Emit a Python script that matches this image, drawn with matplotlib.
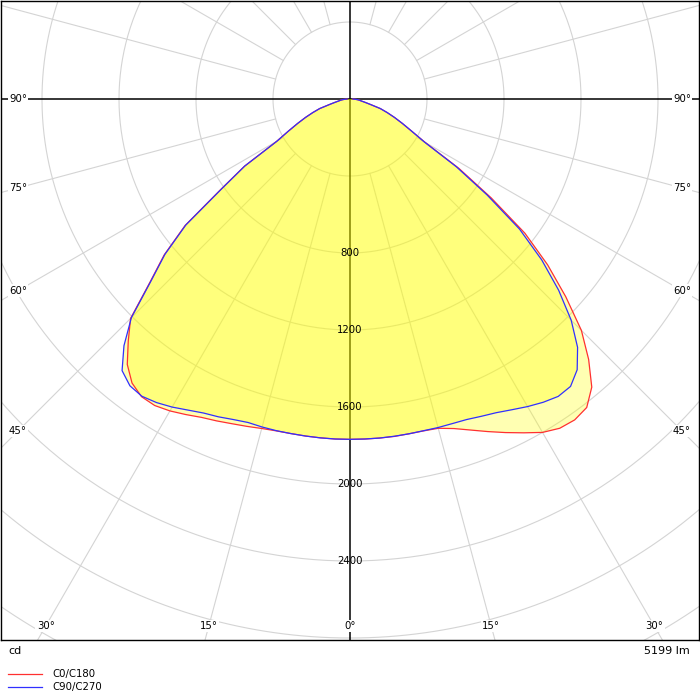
import numpy as np
import matplotlib
matplotlib.use("Agg")
import matplotlib.pyplot as plt
from matplotlib.lines import Line2D

# photometric data, gamma angles in degrees, intensities in cd
gamma = np.arange(0, 90.1, 2.5)
c0 = [1768, 1768, 1768, 1768, 1766, 1766, 1771,
      1795, 1830, 1870, 1912, 1955, 2000, 2028, 2035, 2020, 1954, 1835, 1700,
      1520, 1340, 1145, 895, 670, 450, 360, 300, 250, 205, 165, 110, 80, 60, 50, 38, 25, 15]
c180 = [1768, 1768, 1767, 1766, 1765, 1766, 1772,
        1783, 1795, 1810, 1825, 1848, 1871, 1888, 1888, 1860, 1800, 1705, 1612,
        1410, 1260, 1080, 820, 650, 440, 360, 300, 250, 205, 165, 110, 80, 60, 50, 38, 25, 15]
c90 = [1768, 1768, 1768, 1767, 1766, 1765, 1767,
       1768, 1772, 1784, 1798, 1820, 1845, 1868, 1886, 1882, 1836, 1750, 1625,
       1470, 1300, 1110, 870, 655, 445, 360, 300, 250, 205, 165, 110, 80, 60, 50, 38, 25, 15]
c270 = [1768, 1768, 1767, 1766, 1765, 1765, 1764,
        1762, 1772, 1787, 1800, 1822, 1848, 1870, 1885, 1878, 1842, 1738, 1606,
        1405, 1255, 1075, 815, 648, 438, 360, 300, 250, 205, 165, 110, 80, 60, 50, 38, 25, 15]

ring_values = [800, 1200, 1600, 2000, 2400]
side_angles = [45, 60, 75, 90]
bottom_angles = [0, 15, 30]
flux_text = "5199 lm"
unit_text = "cd"
legend_names = ["C0/C180", "C90/C270"]
colors = ["#ff3030", "#3030ff"]

# layout in pixels (700x700 figure)
CX, CY = 350, 99
S = 400 / 77.0  # cd per pixel

fig = plt.figure(figsize=(7, 7), dpi=100)
ax = fig.add_axes([1 / 700, 60 / 700, 698 / 700, 639 / 700])
ax.set_xlim((1 - CX) * S, (699 - CX) * S)
ax.set_ylim(-(640 - CY) * S, (CY - 1) * S)
ax.set_xticks([])
ax.set_yticks([])
for sp in ax.spines.values():
    sp.set_color("black")
    sp.set_linewidth(1.0)


def curve(left, right):
    g = np.radians(gamma)
    left = np.asarray(left, float)
    right = np.asarray(right, float)
    xl = -left[::-1] * np.sin(g[::-1])
    yl = -left[::-1] * np.cos(g[::-1])
    xr = right * np.sin(g)
    yr = -right * np.cos(g)
    return np.concatenate([xl, xr[1:]]), np.concatenate([yl, yr[1:]])


# grid circles
t = np.linspace(0, 2 * np.pi, 721)
for r in range(400, 4400, 400):
    ax.plot(r * np.cos(t), r * np.sin(t), color="#d4d4d4", lw=0.8, zorder=1)

# radial lines every 15 degrees, starting at the inner circle
for k in range(24):
    if k % 6 == 0:
        continue
    a = np.radians(k * 15)
    ax.plot([400 * np.sin(a), 5000 * np.sin(a)], [-400 * np.cos(a), -5000 * np.cos(a)],
            color="#d4d4d4", lw=0.8, zorder=1)

ax.axhline(0, color="black", lw=1.1, zorder=2)
ax.axvline(0, color="black", lw=1.1, zorder=2)

xa, ya = curve(c180, c0)
xb, yb = curve(c270, c90)
ax.fill(xa, ya, color="#ffff00", alpha=0.3, lw=0, zorder=3)
ax.fill(xb, yb, color="#ffff00", alpha=0.3, lw=0, zorder=3)
ax.plot(xa, ya, color=colors[0], lw=0.9, zorder=4)
ax.plot(xb, yb, color=colors[1], lw=0.9, zorder=5)

fs = 7.3
for v in ring_values:
    ax.text(0, -v, str(v), ha="center", va="center", fontsize=fs, zorder=6)

box = dict(facecolor="white", edgecolor="none", pad=1.0)
xlab = (682 - CX) * S
for a in side_angles:
    y = -xlab / np.tan(np.radians(a)) if a != 90 else 0
    for sx in (-1, 1):
        ax.text(sx * xlab, y, f"{a}°", ha="center", va="center", fontsize=fs,
                bbox=box, zorder=6)

ylab = -(626 - CY) * S
for a in bottom_angles:
    x = -ylab * np.tan(np.radians(a))
    sides = (1,) if a == 0 else (-1, 1)
    for sx in sides:
        ax.text(sx * x, ylab, f"{a}°", ha="center", va="center", fontsize=fs,
                bbox=box, zorder=6)

# captions under the diagram
fig.text(8 / 700, 1 - 651 / 700, unit_text, ha="left", va="center", fontsize=8)
fig.text(690 / 700, 1 - 651 / 700, flux_text, ha="right", va="center", fontsize=8)
for i, (name, col) in enumerate(zip(legend_names, colors)):
    yy = 1 - (674 + 13 * i) / 700
    fig.add_artist(Line2D([8 / 700, 42 / 700], [yy, yy], color=col, lw=0.9,
                          transform=fig.transFigure))
    fig.text(52 / 700, yy, name, ha="left", va="center", fontsize=fs)

fig.savefig("out.png", dpi=100)
